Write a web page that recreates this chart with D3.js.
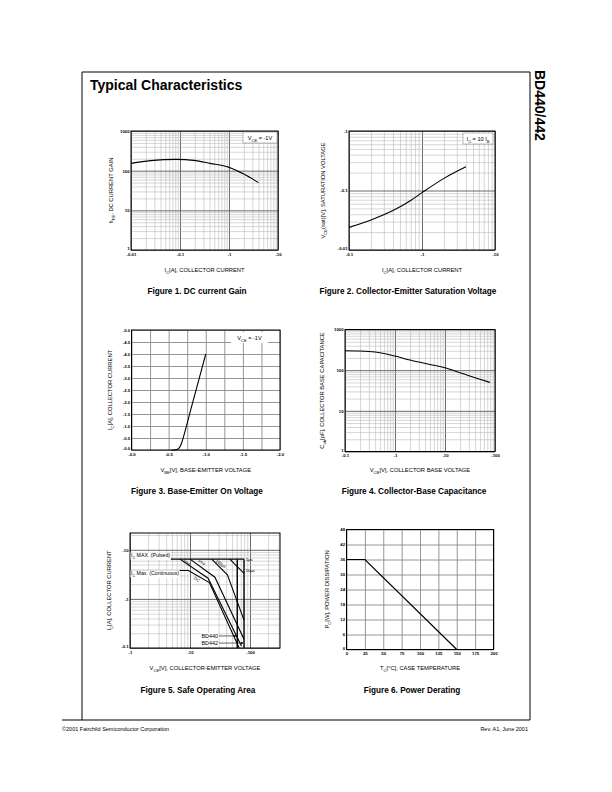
<!DOCTYPE html>
<html>
<head>
<meta charset="utf-8">
<script src="https://cdn.jsdelivr.net/npm/d3@7"></script>
<style>
body { margin: 0; background: #fff; }
svg text { font-family: "Liberation Sans", Arial, Helvetica, sans-serif; fill: #000; }
</style>
</head>
<body>
<svg id="page" width="612" height="792"></svg>
<script>
// ---- Figure 1. DC current gain (log/log)
const fig1Ic = [0.01, 0.025, 0.085, 0.19, 0.41, 1.0, 2.0, 4.0];
const fig1Hfe = [153, 179, 193, 182, 153, 121, 82, 50];
const fig1XTicks = [0.01, 0.1, 1, 10];
const fig1XLabels = ["-0.01", "-0.1", "-1", "-10"];
const fig1YTicks = [1, 10, 100, 1000];
const fig1YLabels = ["1", "10", "100", "1000"];

// ---- Figure 2. Collector-emitter saturation voltage
const fig2Ic = [0.1, 0.2, 0.4, 0.7, 1.0, 2.0, 4.0];
const fig2Vce = [0.024, 0.032, 0.046, 0.068, 0.092, 0.16, 0.25];
const fig2XTicks = [0.1, 1, 10];
const fig2XLabels = ["-0.1", "-1", "-10"];
const fig2YTicks = [0.01, 0.1, 1];
const fig2YLabels = ["-0.01", "-0.1", "-1"];

// ---- Figure 3. Base-emitter on voltage (linear)
const fig3Vbe = [0.54, 0.6, 0.64, 0.67, 0.7, 0.8, 0.9, 1.0];
const fig3Ic = [0, 0.01, 0.08, 0.25, 0.55, 1.7, 2.85, 4.0];
const fig3XTicks = [0, 0.5, 1, 1.5, 2];
const fig3XLabels = ["-0.0", "-0.5", "-1.0", "-1.5", "-2.0"];
const fig3YTicks = [0, 0.5, 1, 1.5, 2, 2.5, 3, 3.5, 4, 4.5, 5];
const fig3YLabels = ["-0.0", "-0.5", "-1.0", "-1.5", "-2.0", "-2.5", "-3.0", "-3.5", "-4.0", "-4.5", "-5.0"];

// ---- Figure 4. Collector-base capacitance
const fig4Vcb = [0.1, 0.2, 0.4, 1, 2, 5, 10, 20, 50, 79];
const fig4Cob = [300, 296, 280, 222, 177, 138, 115, 86, 60, 50];
const fig4XTicks = [0.1, 1, 10, 100];
const fig4XLabels = ["-0.1", "-1", "-10", "-100"];
const fig4YTicks = [1, 10, 100, 1000];
const fig4YLabels = ["1", "10", "100", "1000"];

// ---- Figure 5. Safe operating area
const fig5PulsedV = [1, 79.4];
const fig5PulsedI = [6.45, 6.45];
const fig5DcV = [1, 9.4, 21, 66];
const fig5DcI = [3.8, 3.8, 2.15, 0.1];
const fig55msV = [6.8, 20, 72];
const fig55msI = [6.45, 2.64, 0.11];
const fig51msV = [10, 26, 79.4];
const fig51msI = [6.45, 2.77, 0.15];
const fig5100usV = [23, 42, 79.4];
const fig5100usI = [6.45, 3.1, 0.37];
const fig510usV = [46, 79.4];
const fig510usI = [6.45, 3.3];
const fig5Bd440V = 61.3;
const fig5Bd442V = 79.4;
const fig5XTicks = [1, 10, 100];
const fig5XLabels = ["-1", "-10", "-100"];
const fig5YTicks = [0.1, 1, 10];
const fig5YLabels = ["-0.1", "-1", "-10"];
const fig5CurveLabels = [
  { text: "5ms", v: 8.6, i: 5.2, rot: 35 },
  { text: "1ms", v: 15.2, i: 5.35, rot: 35 },
  { text: "100µs", v: 31.6, i: 4.9, rot: 35 },
  { text: "DC", v: 12.6, i: 2.36, rot: 35 },
  { text: "1µs", v: 85, i: 5.97, rot: 0 },
  { text: "10µs", v: 85, i: 3.56, rot: 0 }
];

// ---- Figure 6. Power derating
const fig6Tc = [0, 25, 150];
const fig6Pc = [36, 36, 0];
const fig6XTicks = [0, 25, 50, 75, 100, 125, 150, 175, 200];
const fig6YTicks = [0, 6, 12, 18, 24, 30, 36, 42, 48];

const MAJOR = "#5a5a5a", MINOR = "#b4b4b4", LINGRID = "#8a8a8a";
const svg = d3.select("#page");

// all 1..9 x 10^k values inside a log domain
function logGrid(domain) {
  const out = [];
  const lo = Math.floor(Math.log10(domain[0]) + 1e-9), hi = Math.ceil(Math.log10(domain[1]));
  for (let k = lo; k <= hi; k++) {
    for (let m = 1; m <= 9; m++) {
      const v = m * Math.pow(10, k);
      if (v >= domain[0] * 0.999 && v <= domain[1] * 1.001) out.push(v);
    }
  }
  return out;
}
const isDecade = d => Math.abs(Math.log10(d) - Math.round(Math.log10(d))) < 1e-6;

// text with subscripts: parts = [[text, isSub], ...]
function rich(sel, parts, size) {
  let down = false;
  parts.forEach(([t, sub]) => {
    const ts = sel.append("tspan").text(t);
    if (sub) {
      ts.attr("font-size", size * 0.72);
      if (!down) { ts.attr("dy", size * 0.3); down = true; }
    } else if (down) {
      ts.attr("dy", -size * 0.3); down = false;
    }
  });
  return sel;
}

function panel(p) {
  const g = svg.append("g");
  const x = p.x, y = p.y;
  const [L, R] = x.range(), [B, T] = y.range();

  // grid through axes
  const gx = g.append("g").attr("transform", `translate(0,${B})`)
    .call(d3.axisBottom(x).tickValues(p.xGrid).tickSize(-(B - T)).tickFormat(""));
  const gy = g.append("g").attr("transform", `translate(${L},0)`)
    .call(d3.axisLeft(y).tickValues(p.yGrid).tickSize(-(R - L)).tickFormat(""));
  [gx, gy].forEach(a => a.select(".domain").remove());
  gx.selectAll(".tick line").attr("stroke", d => p.major(d) ? p.majorColor : p.minorColor)
    .attr("stroke-width", d => p.major(d) ? 0.9 : 0.55);
  gy.selectAll(".tick line").attr("stroke", d => p.major(d) ? p.majorColor : p.minorColor)
    .attr("stroke-width", d => p.major(d) ? 0.9 : 0.55);

  // tick labels
  const lx = g.append("g").attr("transform", `translate(0,${B})`)
    .call(d3.axisBottom(x).tickValues(p.xTicks).tickSize(0).tickPadding(2.6)
      .tickFormat((d, i) => p.xLabels[i]));
  const ly = g.append("g").attr("transform", `translate(${L},0)`)
    .call(d3.axisLeft(y).tickValues(p.yTicks).tickSize(0).tickPadding(1.4)
      .tickFormat((d, i) => p.yLabels[i]));
  [lx, ly].forEach(a => {
    a.select(".domain").remove();
    a.attr("font-family", null).attr("font-size", null);
    a.selectAll("text").attr("font-size", 4.3).attr("font-weight", "bold").attr("fill", "#000");
  });
  // lowest y label sits a little above the corner
  ly.selectAll(".tick").filter((d, i) => i === 0).select("text").attr("dy", "-0.05em");

  // frame
  g.append("rect").attr("x", L).attr("y", T).attr("width", R - L).attr("height", B - T)
    .attr("fill", "none").attr("stroke", "#000").attr("stroke-width", 1);

  // axis titles
  rich(g.append("text").attr("x", (L + R) / 2).attr("y", p.xTitleY).attr("text-anchor", "middle")
    .attr("font-size", 5.8), p.xTitle, 5.8);
  rich(g.append("text").attr("transform", `translate(${p.yTitleX},${(T + B) / 2}) rotate(-90)`)
    .attr("text-anchor", "middle").attr("font-size", 5.8), p.yTitle, 5.8);

  // caption
  g.append("text").attr("x", p.capX).attr("y", p.capY).attr("text-anchor", "middle")
    .attr("font-size", 8.2).attr("font-weight", "bold").text(p.caption);

  // legend box
  if (p.legend) {
    const lg = p.legend;
    g.append("rect").attr("x", R - lg.dx - lg.w).attr("y", T + lg.dy).attr("width", lg.w).attr("height", 11)
      .attr("fill", "#fff").attr("stroke", lg.stroke ? "#777" : "none").attr("stroke-width", 0.5);
    rich(g.append("text").attr("x", R - lg.dx - lg.w / 2).attr("y", T + lg.dy + 8)
      .attr("text-anchor", "middle").attr("font-size", 5.6), lg.parts, 5.6);
  }
  return g;
}

function curve(g, x, y, xs, ys, width, curveType) {
  const pts = xs.map((v, i) => [v, ys[i]]);
  g.append("path").datum(pts)
    .attr("d", d3.line().x(d => x(d[0])).y(d => y(d[1])).curve(curveType || d3.curveMonotoneX))
    .attr("fill", "none").attr("stroke", "#000").attr("stroke-width", width || 1.1);
}

// ---------------- page furniture
svg.append("path").attr("d", "M82,720 V72 H530 V720").attr("fill", "none").attr("stroke", "#000").attr("stroke-width", 1);
svg.append("line").attr("x1", 62).attr("x2", 530).attr("y1", 720).attr("y2", 720).attr("stroke", "#000").attr("stroke-width", 1);
svg.append("text").attr("x", 90).attr("y", 90).attr("font-size", 14).attr("font-weight", "bold").text("Typical Characteristics");
svg.append("text").attr("transform", "translate(535,70) rotate(90)").attr("font-size", 14).attr("font-weight", "bold").text("BD440/442");
svg.append("text").attr("x", 62).attr("y", 731).attr("font-size", 5.5).text("©2001 Fairchild Semiconductor Corporation");
svg.append("text").attr("x", 528).attr("y", 731).attr("text-anchor", "end").attr("font-size", 5.5).text("Rev. A1, June 2001");

// ---------------- Figure 1
{
  const x = d3.scaleLog().domain([0.01, 10]).range([131, 278]);
  const y = d3.scaleLog().domain([1, 1000]).range([250, 131]);
  const g = panel({
    x, y, xGrid: logGrid(x.domain()), yGrid: logGrid(y.domain()), major: isDecade,
    majorColor: MAJOR, minorColor: MINOR,
    xTicks: fig1XTicks, xLabels: fig1XLabels, yTicks: fig1YTicks, yLabels: fig1YLabels,
    xTitle: [["I"], ["C", 1], ["[A], COLLECTOR CURRENT"]], xTitleY: 272,
    yTitle: [["h"], ["FE", 1], [", DC CURRENT GAIN"]], yTitleX: 113,
    caption: "Figure 1. DC current Gain", capX: 197, capY: 294,
    legend: { w: 34, dx: 1, dy: 1, stroke: true, parts: [["V"], ["CE", 1], [" = -1V"]] }
  });
  curve(g, x, y, fig1Ic, fig1Hfe);
}

// ---------------- Figure 2
{
  const x = d3.scaleLog().domain([0.1, 10]).range([349, 495]);
  const y = d3.scaleLog().domain([0.01, 1]).range([250, 131]);
  const g = panel({
    x, y, xGrid: logGrid(x.domain()), yGrid: logGrid(y.domain()), major: isDecade,
    majorColor: MAJOR, minorColor: MINOR,
    xTicks: fig2XTicks, xLabels: fig2XLabels, yTicks: fig2YTicks, yLabels: fig2YLabels,
    xTitle: [["I"], ["C", 1], ["[A], COLLECTOR CURRENT"]], xTitleY: 272,
    yTitle: [["V"], ["CE", 1], ["(sat)[V], SATURATION VOLTAGE"]], yTitleX: 325,
    caption: "Figure 2. Collector-Emitter Saturation Voltage", capX: 408, capY: 294,
    legend: { w: 30, dx: 2, dy: 2, stroke: true, parts: [["I"], ["C", 1], [" = 10 I"], ["B", 1]] }
  });
  curve(g, x, y, fig2Ic, fig2Vce);
}

// ---------------- Figure 3
{
  const x = d3.scaleLinear().domain([0, 2]).range([131.5, 280]);
  const y = d3.scaleLinear().domain([0, 5]).range([450, 330]);
  const g = panel({
    x, y, xGrid: d3.range(0, 2.001, 0.25), yGrid: d3.range(0, 5.001, 0.5), major: () => true,
    majorColor: LINGRID, minorColor: LINGRID,
    xTicks: fig3XTicks, xLabels: fig3XLabels, yTicks: fig3YTicks, yLabels: fig3YLabels,
    xTitle: [["V"], ["BE", 1], ["[V], BASE-EMITTER VOLTAGE"]], xTitleY: 472,
    yTitle: [["I"], ["C", 1], ["[A], COLLECTOR CURRENT"]], yTitleX: 112,
    caption: "Figure 3. Base-Emitter On Voltage", capX: 197, capY: 494,
    legend: { w: 37, dx: 12, dy: 2, stroke: false, parts: [["V"], ["CE", 1], [" = -1V"]] }
  });
  curve(g, x, y, fig3Vbe, fig3Ic);
}

// ---------------- Figure 4
{
  const x = d3.scaleLog().domain([0.1, 100]).range([345, 495]);
  const y = d3.scaleLog().domain([1, 1000]).range([451.5, 329.5]);
  const g = panel({
    x, y, xGrid: logGrid(x.domain()), yGrid: logGrid(y.domain()), major: isDecade,
    majorColor: MAJOR, minorColor: MINOR,
    xTicks: fig4XTicks, xLabels: fig4XLabels, yTicks: fig4YTicks, yLabels: fig4YLabels,
    xTitle: [["V"], ["CB", 1], ["[V], COLLECTOR BASE VOLTAGE"]], xTitleY: 472,
    yTitle: [["C"], ["ob", 1], ["[pF], COLLECTOR BASE CAPACITANCE"]], yTitleX: 324,
    caption: "Figure 4. Collector-Base Capacitance", capX: 414, capY: 494
  });
  curve(g, x, y, fig4Vcb, fig4Cob);
}

// ---------------- Figure 5
{
  const x = d3.scaleLog().domain([1, 316]).range([130, 280]);
  const y = d3.scaleLog().domain([0.1, 22]).range([648, 533]);
  const g = panel({
    x, y, xGrid: logGrid(x.domain()), yGrid: logGrid(y.domain()), major: isDecade,
    majorColor: MAJOR, minorColor: MINOR,
    xTicks: fig5XTicks, xLabels: fig5XLabels, yTicks: fig5YTicks, yLabels: fig5YLabels,
    xTitle: [["V"], ["CE", 1], ["[V], COLLECTOR-EMITTER VOLTAGE"]], xTitleY: 670,
    yTitle: [["I"], ["C", 1], ["[A], COLLECTOR CURRENT"]], yTitleX: 111,
    caption: "Figure 5. Safe Operating Area", capX: 198, capY: 693
  });
  const lin = d3.curveLinear;
  curve(g, x, y, fig5PulsedV, fig5PulsedI, 1.3, lin);
  curve(g, x, y, fig5DcV, fig5DcI, 1.1, lin);
  curve(g, x, y, fig55msV, fig55msI, 1.1, lin);
  curve(g, x, y, fig51msV, fig51msI, 1.1, lin);
  curve(g, x, y, fig5100usV, fig5100usI, 1.1, lin);
  curve(g, x, y, fig510usV, fig510usI, 1.1, lin);
  curve(g, x, y, [fig5Bd440V, fig5Bd440V], [0.1, fig5PulsedI[0]], 1.4, lin);
  curve(g, x, y, [fig5Bd442V, fig5Bd442V], [0.1, fig5PulsedI[0]], 1.4, lin);

  // limit labels
  const lab = (txt, v, i) => {
    const t = g.append("text").attr("x", x(v)).attr("y", y(i)).attr("font-size", 5.2);
    rich(t, txt, 5.2);
    const bb = t.node().getBBox();
    g.insert("rect", () => t.node()).attr("x", bb.x - 0.5).attr("y", bb.y).attr("width", bb.width + 1)
      .attr("height", bb.height).attr("fill", "#fff");
  };
  lab([["I"], ["C", 1], [" MAX. (Pulsed)"]], 1.04, 7.0);
  lab([["I"], ["C", 1], [" Max. (Continuous)"]], 1.04, 3.05);

  fig5CurveLabels.forEach(d => {
    g.append("text").attr("transform", `translate(${x(d.v)},${y(d.i)}) rotate(${d.rot})`)
      .attr("text-anchor", d.rot ? "middle" : "start").attr("font-size", 4.2).text(d.text);
  });

  // BD440 / BD442 pointers
  const defs = svg.append("defs");
  defs.append("marker").attr("id", "arr").attr("viewBox", "0 0 6 6").attr("refX", 6).attr("refY", 3)
    .attr("markerWidth", 4).attr("markerHeight", 4).attr("orient", "auto")
    .append("path").attr("d", "M0,0 L6,3 L0,6 Z").attr("fill", "#000");
  [["BD440", fig5Bd440V, 0.176], ["BD442", fig5Bd442V, 0.126]].forEach(([name, v, i]) => {
    const t = g.append("text").attr("x", 218).attr("y", y(i) + 1.8).attr("text-anchor", "end")
      .attr("font-size", 5.4).text(name);
    const bb = t.node().getBBox();
    g.insert("rect", () => t.node()).attr("x", bb.x - 0.5).attr("y", bb.y).attr("width", bb.width + 1)
      .attr("height", bb.height).attr("fill", "#fff");
    g.append("line").attr("x1", 219).attr("x2", x(v) - 0.6).attr("y1", y(i)).attr("y2", y(i))
      .attr("stroke", "#000").attr("stroke-width", 0.6).attr("marker-end", "url(#arr)");
  });
}

// ---------------- Figure 6
{
  const x = d3.scaleLinear().domain([0, 200]).range([346.5, 493.5]);
  const y = d3.scaleLinear().domain([0, 48]).range([649.5, 529.5]);
  const g = panel({
    x, y, xGrid: fig6XTicks, yGrid: fig6YTicks, major: () => true,
    majorColor: LINGRID, minorColor: LINGRID,
    xTicks: fig6XTicks, xLabels: fig6XTicks.map(String), yTicks: fig6YTicks, yLabels: fig6YTicks.map(String),
    xTitle: [["T"], ["C", 1], ["[°C], CASE TEMPERATURE"]], xTitleY: 670,
    yTitle: [["P"], ["C", 1], ["[W], POWER DISSIPATION"]], yTitleX: 329,
    caption: "Figure 6. Power Derating", capX: 412, capY: 693
  });
  curve(g, x, y, fig6Tc, fig6Pc, 1.2, d3.curveLinear);
}
</script>
</body>
</html>
